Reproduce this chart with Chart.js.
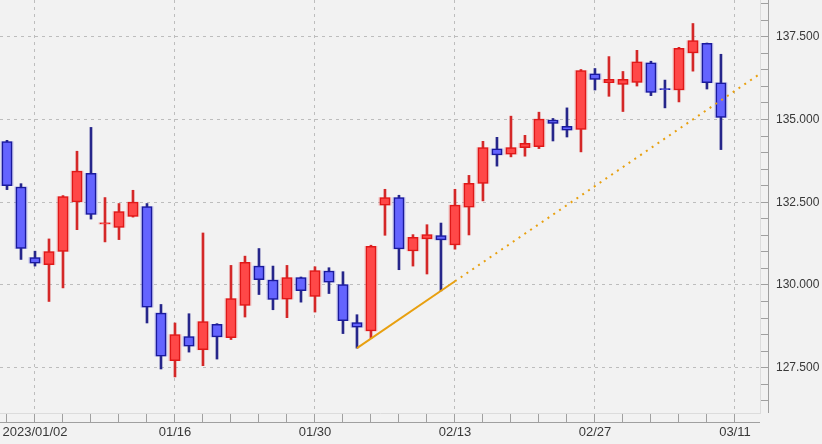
<!DOCTYPE html>
<html>
<head>
<meta charset="utf-8">
<script src="https://cdn.jsdelivr.net/npm/chart.js@4"></script>
<style>
  html, body { margin: 0; padding: 0; background: #f2f2f2; }
  #wrap { width: 822px; height: 444px; }
</style>
</head>
<body>
<div id="wrap"><canvas id="chart" width="822" height="444"></canvas></div>
<script>
// daily candles, 2022/12/29 .. 2023/03/10
let open = [134.33, 132.96, 130.83, 130.61, 131.01, 132.51, 133.37, 131.84, 131.74, 132.07,
  132.37, 129.15, 127.71, 128.44, 128.04, 128.81, 128.41, 129.38, 130.57, 130.15,
  129.57, 130.22, 129.65, 130.42, 130.01, 128.86, 128.61, 132.41, 132.64, 131.03,
  131.39, 131.49, 131.21, 132.35, 133.07, 134.11, 133.95, 134.15, 134.18, 134.98,
  134.79, 134.70, 136.38, 136.11, 136.06, 136.12, 136.71, 135.93, 135.89, 137.01,
  137.30, 136.11];
let high = [134.37, 133.06, 131.02, 131.39, 132.70, 134.04, 134.76, 132.64, 132.46, 132.86,
  132.46, 129.41, 128.85, 129.13, 131.57, 128.83, 130.59, 130.87, 131.10, 130.57,
  130.59, 130.24, 130.55, 130.52, 130.40, 129.10, 131.20, 132.89, 132.71, 131.52,
  131.82, 131.87, 132.89, 133.31, 134.34, 134.46, 135.10, 134.52, 135.22, 135.03,
  135.35, 136.51, 136.54, 136.90, 136.45, 137.09, 136.76, 136.19, 137.18, 137.90,
  137.31, 136.97];
let low = [132.88, 130.77, 130.57, 129.50, 129.91, 131.67, 131.99, 131.30, 131.37, 132.05,
  128.85, 127.46, 127.22, 127.97, 127.56, 127.76, 128.35, 129.03, 129.71, 129.25,
  129.01, 129.48, 129.18, 129.74, 128.53, 128.09, 128.38, 131.50, 130.46, 130.57,
  130.33, 129.82, 131.08, 131.51, 132.54, 133.59, 133.87, 133.89, 134.12, 134.35,
  134.47, 134.02, 135.89, 135.70, 135.24, 136.01, 135.72, 135.35, 135.53, 136.46,
  135.92, 134.09];
let close = [133.00, 131.10, 130.66, 131.01, 132.67, 133.44, 132.13, 131.88, 132.22, 132.50,
  129.33, 127.85, 128.50, 128.15, 128.89, 128.43, 129.59, 130.68, 130.16, 129.56,
  130.22, 129.83, 130.43, 130.08, 128.92, 128.72, 131.17, 132.64, 131.09, 131.44,
  131.52, 131.36, 132.41, 133.07, 134.15, 133.93, 134.15, 134.28, 135.01, 134.88,
  134.68, 136.48, 136.21, 136.21, 136.21, 136.74, 135.82, 135.90, 137.15, 137.38,
  136.11, 135.06];

// trend line (solid part, then dotted projection)
let trendX = [25, 32];
let trendY = [128.09, 130.11];
let projX = [32, 54];
let projY = [130.11, 136.44];

// x axis labels
let tickPos = [2, 12, 22, 32, 42, 52];
let tickText = ["2023/01/02", "01/16", "01/30", "02/13", "02/27", "03/11"];

let upFill = "#ff4848", upLine = "#e01818";
let downFill = "#6464ff", downLine = "#1a1a9c";

let up = open.map((o, i) => close[i] >= o);
let wicks = high.map((h, i) => ({ x: i, y: [low[i], h] }));
let bodies = open.map((o, i) => ({ x: i, y: [o, close[i]] }));

function isMajorY(v) {
  let r = v / 2.5;
  return Math.abs(r - Math.round(r)) < 0.001;
}

// dark axis lines sitting a little outside the plot frame
let axisLines = {
  id: "axisLines",
  afterDraw(c) {
    let a = c.chartArea;
    let ctx = c.ctx;
    ctx.save();
    ctx.strokeStyle = "#a0a0a0";
    ctx.lineWidth = 1;
    ctx.beginPath();
    ctx.moveTo(a.right + 8.5, a.top);
    ctx.lineTo(a.right + 8.5, a.bottom);
    ctx.moveTo(a.left, a.bottom + 9.5);
    ctx.lineTo(a.right, a.bottom + 9.5);
    ctx.stroke();
    ctx.restore();
  },
};

let chart = new Chart(document.getElementById("chart"), {
  type: "bar",
  data: {
    datasets: [
      {
        type: "line",
        data: trendX.map((x, i) => ({ x: x, y: trendY[i] })),
        borderColor: "#e8a010",
        borderWidth: 2,
        pointRadius: 0,
        order: 0,
      },
      {
        type: "line",
        data: projX.map((x, i) => ({ x: x, y: projY[i] })),
        borderColor: "#e8a010",
        borderWidth: 2,
        borderDash: [2, 5],
        pointRadius: 0,
        order: 0,
      },
      {
        data: bodies,
        barThickness: 10,
        grouped: false,
        borderWidth: 1.5,
        borderSkipped: false,
        backgroundColor: up.map((u) => (u ? upFill : downFill)),
        borderColor: up.map((u) => (u ? upLine : downLine)),
        order: 1,
      },
      {
        data: bodies,
        barThickness: 12,
        grouped: false,
        borderWidth: 0,
        backgroundColor: up.map((u) => (u ? "rgba(230,60,60,0.35)" : "rgba(60,60,200,0.35)")),
        order: 2,
      },
      {
        data: wicks,
        barThickness: 2,
        grouped: false,
        borderWidth: 0,
        backgroundColor: up.map((u) => (u ? "#d42828" : "#26268a")),
        order: 3,
      },
    ],
  },
  options: {
    responsive: false,
    animation: false,
    layout: { padding: 0 },
    scales: {
      x: {
        type: "linear",
        min: -0.5,
        max: 53.79,
        offset: false,
        afterFit: (s) => {
          s.height = 31;
          s.paddingLeft = 0;
          s.paddingRight = 0;
        },
        grid: {
          offset: false,
          color: (c) => (c.tick && tickPos.includes(c.tick.value) ? "#bdbdbd" : "rgba(0,0,0,0)"),
          tickColor: "#a0a0a0",
          tickLength: 9,
        },
        border: { color: "#dcdcdc", dash: [3, 4] },
        ticks: {
          stepSize: 2,
          includeBounds: false,
          autoSkip: false,
          maxRotation: 0,
          padding: 3,
          color: "#383838",
          font: { family: "Liberation Sans", size: 13 },
          callback: (v) => {
            let k = tickPos.indexOf(v);
            return k < 0 ? "" : tickText[k];
          },
        },
      },
      y: {
        position: "right",
        min: 126.13,
        max: 138.61,
        afterFit: (s) => {
          s.width = 62;
          s.paddingTop = 0;
          s.paddingBottom = 0;
        },
        grid: {
          color: (c) => (c.tick && isMajorY(c.tick.value) ? "#bdbdbd" : "rgba(0,0,0,0)"),
          tickColor: "#a0a0a0",
          tickLength: 8,
        },
        border: { color: "#dcdcdc", dash: [3, 4] },
        ticks: {
          stepSize: 0.5,
          includeBounds: false,
          autoSkip: false,
          padding: 8,
          color: "#383838",
          font: { family: "Liberation Sans", size: 12 },
          callback: (v) => (isMajorY(v) ? v.toFixed(3) : ""),
        },
      },
    },
    plugins: {
      legend: { display: false },
      tooltip: { enabled: false },
    },
  },
  plugins: [axisLines],
});
</script>
</body>
</html>
